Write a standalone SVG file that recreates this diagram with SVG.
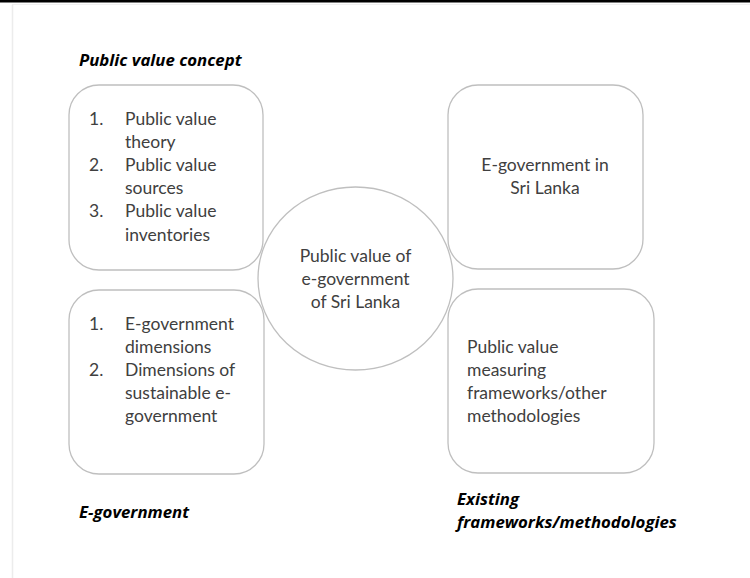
<svg xmlns="http://www.w3.org/2000/svg" width="750" height="578" viewBox="0 0 750 578">
  <style>
    .box { fill: none; stroke: #bfbfbf; stroke-width: 1.3; }
    .txt { font-family: Lato, "Open Sans", "Liberation Sans", sans-serif; font-size: 17.5px; fill: #404040; }
    .head { font-family: "Open Sans", Lato, "Liberation Sans", sans-serif; font-size: 16.8px; font-weight: bold; font-style: italic; fill: #000000; }
  </style>

  <!-- page frame -->
  <rect x="0" y="0" width="750" height="578" fill="#ffffff"/>
  <rect x="0" y="0" width="750" height="2.5" fill="#000000"/>
  <line x1="12" y1="4.5" x2="750" y2="4.5" stroke="#f0f0f0" stroke-width="1"/>
  <line x1="12.5" y1="4.5" x2="12.5" y2="578" stroke="#ececec" stroke-width="1.5"/>

  <!-- section headings -->
  <text class="head" x="79" y="66">Public value concept</text>
  <text class="head" x="79" y="518">E-government</text>
  <text class="head" x="457" y="505">Existing</text>
  <text class="head" x="457" y="528">frameworks/methodologies</text>

  <g id="connectors"></g>

  <g id="node-public-value-concept">
    <rect class="box" x="69" y="85" width="194" height="185" rx="30" ry="30"/>
    <text class="txt" x="89" y="125">1.</text>
    <text class="txt" x="125" y="125">Public value</text>
    <text class="txt" x="125" y="148">theory</text>
    <text class="txt" x="89" y="171">2.</text>
    <text class="txt" x="125" y="171">Public value</text>
    <text class="txt" x="125" y="194">sources</text>
    <text class="txt" x="89" y="217">3.</text>
    <text class="txt" x="125" y="217">Public value</text>
    <text class="txt" x="125" y="241">inventories</text>
  </g>

  <g id="node-e-government">
    <rect class="box" x="69" y="290" width="195" height="184" rx="30" ry="30"/>
    <text class="txt" x="89" y="330">1.</text>
    <text class="txt" x="125" y="330">E-government</text>
    <text class="txt" x="125" y="353">dimensions</text>
    <text class="txt" x="89" y="376">2.</text>
    <text class="txt" x="125" y="376">Dimensions of</text>
    <text class="txt" x="125" y="399">sustainable e-</text>
    <text class="txt" x="125" y="422">government</text>
  </g>

  <g id="node-egov-sri-lanka">
    <rect class="box" x="448" y="85" width="195" height="184" rx="30" ry="30"/>
    <text class="txt" x="545" y="171" text-anchor="middle">E-government in</text>
    <text class="txt" x="545" y="194" text-anchor="middle">Sri Lanka</text>
  </g>

  <g id="node-frameworks">
    <rect class="box" x="448" y="289" width="206" height="184" rx="30" ry="30"/>
    <text class="txt" x="467" y="353">Public value</text>
    <text class="txt" x="467" y="376">measuring</text>
    <text class="txt" x="467" y="399">frameworks/other</text>
    <text class="txt" x="467" y="422">methodologies</text>
  </g>

  <g id="node-centre">
    <ellipse class="box" cx="355.5" cy="278.5" rx="97.5" ry="91.5"/>
    <text class="txt" x="355.5" y="262" text-anchor="middle">Public value of</text>
    <text class="txt" x="355.5" y="285" text-anchor="middle">e-government</text>
    <text class="txt" x="355.5" y="308" text-anchor="middle">of Sri Lanka</text>
  </g>
</svg>
